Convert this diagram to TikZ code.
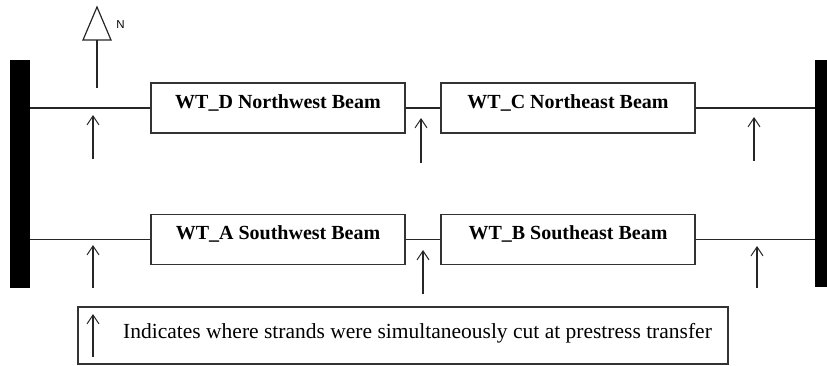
\documentclass[tikz,border=0pt]{standalone}
\usepackage{fontspec}
\setmainfont{Liberation Serif}
\newfontfamily\labelsans{Liberation Sans}
\usetikzlibrary{arrows.meta}

\tikzset{
  beambox/.style={draw=black!80, line width=1.2pt, minimum width=254pt,
    minimum height=50pt, inner sep=0pt},
  beamtext/.style={font=\fontsize{20}{22}\selectfont\bfseries, inner sep=0pt},
  support/.style={fill=black, draw=none, inner sep=0pt},
  beamline/.style={draw=black!85, line width=1.2pt},
  cutarrow/.style={draw=black!85, line width=1.2pt,
    -{Straight Barb[length=9pt, width=12pt, line width=1pt]}},
  legendbox/.style={draw=black!80, line width=1.2pt, minimum width=650pt,
    minimum height=57pt, inner sep=0pt},
  legendtext/.style={font=\fontsize{21.5}{24}\selectfont, inner sep=0pt},
}

\begin{document}
\begin{tikzpicture}[x=1pt, y=-1pt]
  \useasboundingbox (0,0) rectangle (827,365);

  % end supports
  \node[support, minimum width=20pt, minimum height=228pt] (lbar) at (20,174) {};
  \node[support, minimum width=12pt, minimum height=227pt] (rbar) at (821,173.5) {};

  % beams
  \node[beambox] (D) at (278,108) {};
  \node[beambox] (C) at (568,108) {};
  \node[beambox] (A) at (278,239.5) {};
  \node[beambox] (B) at (568,239.5) {};

  \node[beamtext] (Dt) at ([yshift=5pt]D.center) {WT\_D Northwest Beam};
  \node[beamtext] (Ct) at ([yshift=5pt]C.center) {WT\_C Northeast Beam};
  \node[beamtext] (At) at ([yshift=6pt]A.center) {WT\_A Southwest Beam};
  \node[beamtext] (Bt) at ([yshift=6pt]B.center) {WT\_B Southeast Beam};

  % strand lines between supports and beams
  \draw[beamline] (lbar.east |- D.west) -- (D.west);
  \draw[beamline] (D.east) -- (C.west);
  \draw[beamline] (C.east) -- (rbar.west |- C.east);
  \draw[beamline] (lbar.east |- A.west) -- (A.west);
  \draw[beamline] (A.east) -- (B.west);
  \draw[beamline] (B.east) -- (rbar.west |- B.east);

  % north arrow
  \coordinate (ntip) at (97,7);
  \coordinate (nbl) at (83,40);
  \coordinate (nbr) at (111,40);
  \coordinate (nbase) at (97,40);
  \coordinate (nfoot) at (97,88);
  \draw[draw=black!85, line width=1.2pt, line join=miter] (nbl) -- (ntip) -- (nbr) -- cycle;
  \draw[beamline] (nfoot) -- (nbase);
  \node[font=\labelsans\fontsize{11.5}{13}\selectfont, inner sep=0pt] (nlab) at (120.5,24.5) {N};

  % strand cut locations
  \coordinate (c1b) at (93,159);  \coordinate (c1t) at (93,115);
  \coordinate (c2b) at (421,163); \coordinate (c2t) at (421,118);
  \coordinate (c3b) at (754,161); \coordinate (c3t) at (754,117);
  \coordinate (c4b) at (93,288);  \coordinate (c4t) at (93,245);
  \coordinate (c5b) at (423,294); \coordinate (c5t) at (423,250);
  \coordinate (c6b) at (757,288); \coordinate (c6t) at (757,246);
  \draw[cutarrow] (c1b) -- (c1t);
  \draw[cutarrow] (c2b) -- (c2t);
  \draw[cutarrow] (c3b) -- (c3t);
  \draw[cutarrow] (c4b) -- (c4t);
  \draw[cutarrow] (c5b) -- (c5t);
  \draw[cutarrow] (c6b) -- (c6t);

  % legend
  \node[legendbox] (leg) at (403,335.5) {};
  \coordinate (lgb) at (93,357); \coordinate (lgt) at (93,314);
  \draw[cutarrow] (lgb) -- (lgt);
  \node[legendtext, anchor=base west] (legt) at (123,338)
    {Indicates where strands were simultaneously cut at prestress transfer};
\end{tikzpicture}
\end{document}
